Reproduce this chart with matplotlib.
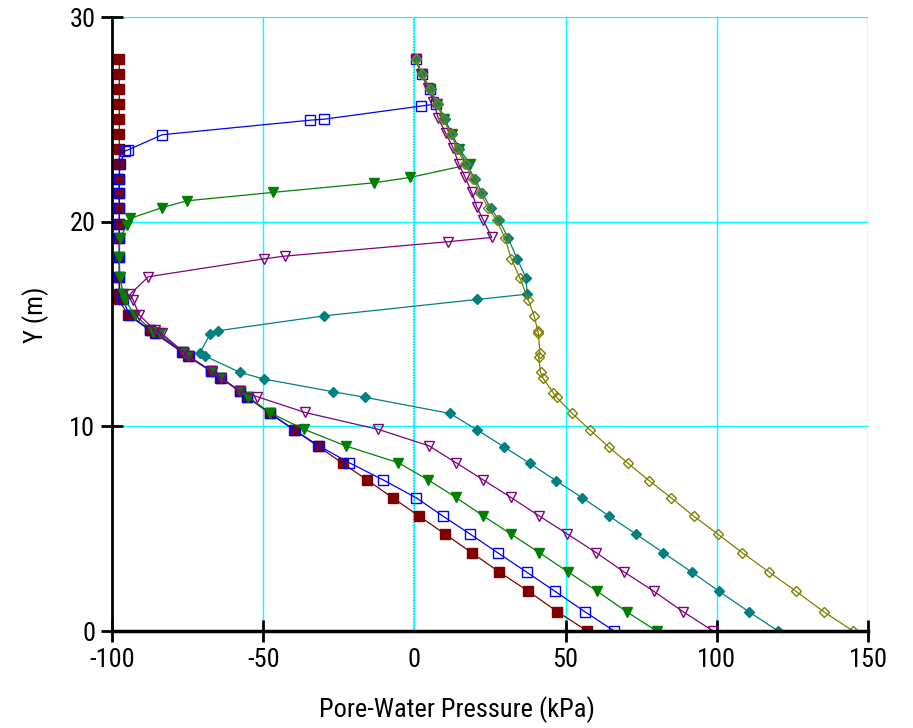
import matplotlib
matplotlib.use('Agg')
import matplotlib.pyplot as plt
from matplotlib import font_manager

# pick a narrow sans font that is installed
available = set(f.name for f in font_manager.fontManager.ttflist)
font_family = 'DejaVu Sans'
font_stretch = 'condensed'
for name in ['Liberation Sans Narrow', 'Arial Narrow', 'Nimbus Sans Narrow', 'Roboto Condensed',
             'Archivo Narrow', 'PT Sans Narrow', 'Open Sans Condensed']:
    if name in available:
        font_family = name
        font_stretch = 'normal'
        break
plt.rcParams['font.family'] = [font_family, 'DejaVu Sans']
plt.rcParams['font.stretch'] = font_stretch
plt.rcParams['axes.unicode_minus'] = False

# pore-water pressure profiles (kPa) vs elevation Y (m)
maroon_y = [27.93, 27.2, 26.46, 25.75, 25.02, 24.28, 23.53, 22.81, 22.1, 21.4, 20.65, 19.9, 19.18, 18.29, 17.31, 16.46, 16.2,
            15.44, 14.7, 14.54, 13.64, 13.43, 12.7, 12.37, 11.72, 11.45,
            10.63, 9.82, 9.02, 8.19, 7.38, 6.51, 5.63, 4.74, 3.83, 2.88, 1.94, 0.94, 0.0]
maroon_x = [-97.6, -97.6, -97.6, -97.6, -97.6, -97.6, -97.6, -97.6, -97.6, -97.6, -97.6, -97.6, -97.6, -97.6, -97.6, -97.7, -97.9,
            -94.6, -87.6, -85.8, -77.0, -75.0, -67.4, -64.2, -57.8, -55.5,
            -47.8, -39.7, -31.8, -23.7, -15.6, -7.2, 1.4, 10.1, 18.9, 28.1, 37.7, 47.3, 57.2]

blue_y = [27.93, 27.2, 26.46, 25.75, 25.65, 25.01, 24.96, 24.25, 23.5, 23.46,
          22.81, 22.1, 21.4, 20.65, 19.9, 19.18, 18.29, 17.31, 16.46, 16.2,
          15.44, 14.7, 14.54, 13.64, 13.43, 12.7, 12.37, 11.72, 11.45,
          10.63, 9.82, 9.04, 8.22, 7.38, 6.51, 5.62, 4.74, 3.83, 2.88, 1.94, 0.94, 0.0]
blue_x = [0.5, 2.5, 5.0, 7.3, 2.1, -29.8, -34.5, -83.4, -94.8, -95.7,
          -97.4, -97.6, -97.6, -97.6, -97.6, -97.6, -97.6, -97.6, -97.4, -96.5,
          -94.2, -87.3, -85.3, -76.6, -74.6, -67.2, -64.0, -57.6, -55.2,
          -47.6, -39.6, -31.5, -21.5, -10.3, 0.6, 9.4, 18.4, 27.5, 37.1, 46.5, 56.4, 66.1]

green_y = [27.93, 27.2, 26.46, 25.75, 25.02, 24.3, 23.56, 22.8,
           22.16, 21.9, 21.43, 21.02, 20.68, 20.16, 19.83,
           19.18, 18.29, 17.31, 16.46, 16.17,
           15.44, 14.62, 14.54, 13.6, 13.43, 12.67, 12.34, 11.72, 11.42,
           10.67, 9.85, 9.04, 8.22, 7.38, 6.53, 5.62, 4.74, 3.83, 2.88, 1.94, 0.94, 0.0]
green_x = [0.5, 2.5, 5.2, 7.6, 9.8, 12.3, 14.8, 18.5,
           -1.5, -13.4, -46.9, -75.3, -83.6, -94.0, -95.1,
           -97.4, -97.6, -97.4, -96.3, -95.7,
           -92.4, -86.3, -84.1, -76.2, -74.8, -67.0, -64.0, -57.7, -54.9,
           -47.8, -36.4, -22.6, -5.3, 4.6, 13.7, 22.8, 31.9, 41.3, 50.9, 60.5, 70.2, 80.1]

purple_y = [27.93, 27.2, 26.55, 25.85, 25.05, 24.31, 23.58, 22.84, 22.2, 21.46, 20.73, 20.08, 19.23,
            19.02, 18.32, 18.19, 17.31, 16.46, 16.17,
            15.44, 14.7, 14.54, 13.64, 13.43, 12.7, 12.37, 11.72, 11.45,
            10.68, 9.85, 9.05, 8.22, 7.38, 6.53, 5.62, 4.74, 3.83, 2.88, 1.94, 0.94, 0.0]
purple_x = [0.4, 2.3, 4.4, 6.3, 7.9, 10.4, 12.9, 14.6, 16.7, 18.9, 20.6, 22.8, 25.6,
            11.0, -42.7, -49.6, -88.0, -94.0, -93.0,
            -91.0, -85.8, -83.6, -76.4, -74.8, -67.0, -63.8, -57.9, -52.0,
            -36.2, -11.9, 4.8, 13.8, 22.8, 31.9, 41.3, 50.6, 60.1, 69.4, 79.2, 88.9, 98.8]

teal_y = [27.93, 27.2, 26.46, 25.75, 25.02, 24.3, 23.56, 22.81, 22.1, 21.4, 20.65, 20.07, 19.18, 18.2, 17.26, 16.46,
          16.2, 15.4, 14.67, 14.5, 13.6, 13.43, 12.64, 12.31, 11.69, 11.42,
          10.63, 9.82, 9.0, 8.19, 7.35, 6.51, 5.62, 4.74, 3.83, 2.88, 1.94, 0.94, 0.0]
teal_x = [0.5, 2.6, 5.4, 7.8, 10.0, 12.4, 14.7, 17.3, 20.0, 22.4, 25.3, 28.0, 31.1, 33.9, 36.9, 37.3,
          20.7, -29.8, -65.1, -67.6, -70.9, -69.2, -57.7, -49.7, -26.8, -16.3,
          11.8, 20.8, 29.6, 38.2, 46.8, 55.5, 64.4, 73.2, 82.3, 91.7, 100.8, 110.6, 120.3]

olive_y = [27.93, 27.2, 26.46, 25.75, 25.02, 24.3, 23.56, 22.81, 22.1, 21.4, 20.65, 20.07, 19.18, 18.2, 17.24,
           16.17, 15.4, 14.66, 14.54, 13.57, 13.4, 12.64, 12.34, 11.64, 11.42,
           10.63, 9.82, 9.0, 8.19, 7.35, 6.51, 5.62, 4.74, 3.83, 2.88, 1.94, 0.94, 0.0]
olive_x = [0.5, 2.5, 5.2, 7.5, 9.6, 12.0, 14.2, 16.7, 19.5, 21.7, 24.5, 27.2, 30.0, 32.0, 34.9,
           37.7, 39.6, 40.8, 41.0, 41.5, 41.1, 41.7, 42.6, 45.9, 47.0,
           52.2, 58.1, 64.2, 70.7, 77.6, 84.9, 92.3, 100.3, 108.4, 117.3, 126.2, 135.4, 145.1]

x_ticks = [-100, -50, 0, 50, 100, 150]
y_ticks = [0, 10, 20, 30]

fig = plt.figure(figsize=(9.13, 7.28), dpi=100)
ax = fig.add_axes([0.1227, 0.1332, 0.828, 0.8434])

# grid (cyan) and the dotted zero line
for xv in [-50, 0, 50, 100, 150]:
    ax.axvline(xv, color='#00ffff', lw=1.0, zorder=0)
for yv in [10, 20, 30]:
    ax.axhline(yv, color='#00ffff', lw=1.0, zorder=0)
ax.axhline(0, color='#00ffff', lw=1.0, zorder=0)
ax.axvline(-0.5, color='#999999', lw=1.0, ls=(0, (1, 1)), zorder=0)

lw = 0.9
ax.plot(maroon_x, maroon_y, color='#800000', lw=lw, marker='s', ms=6.5, mfc='#800000', mec='#800000')
ax.plot(blue_x, blue_y, color='#0000ff', lw=lw, marker='s', ms=6.5, mfc='none', mec='#0000ff', mew=1.0)
ax.plot(green_x, green_y, color='#008000', lw=lw, marker='v', ms=7.5, mfc='#008000', mec='#008000')
ax.plot(purple_x, purple_y, color='#800080', lw=lw, marker='v', ms=7.5, mfc='none', mec='#800080', mew=1.0)
ax.plot(teal_x, teal_y, color='#008080', lw=lw, marker='D', ms=4.8, mfc='#008080', mec='#008080')
ax.plot(olive_x, olive_y, color='#808000', lw=lw, marker='D', ms=5.2, mfc='none', mec='#808000', mew=1.0)

ax.set_xlim(-100, 150)
ax.set_ylim(0, 30)
ax.set_xticks(x_ticks)
ax.set_yticks(y_ticks)
ax.tick_params(direction='inout', length=16, width=2, labelsize=19, pad=4)
ax.xaxis.get_major_ticks()[2].tick1line.set_visible(False)

for s in ['top', 'right']:
    ax.spines[s].set_visible(False)
ax.spines['left'].set_linewidth(2)
ax.spines['bottom'].set_linewidth(2.5)

# axis titles are centred on the figure, not on the plot area
fig.text(0.5, 1 - 710 / 728, 'Pore-Water Pressure (kPa)', fontsize=19, ha='center', va='center')
fig.text(36 / 913, 1 - 315 / 728, 'Y (m)', fontsize=19, ha='center', va='center', rotation=90)

fig.savefig('out.png', dpi=100)
